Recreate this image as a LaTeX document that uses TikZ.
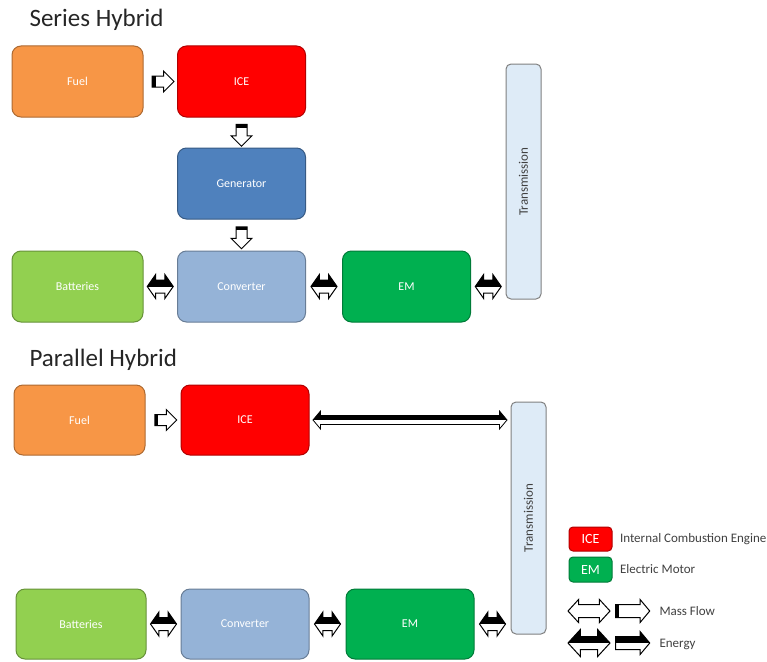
\documentclass[tikz,border=0pt]{standalone}
\usepackage{fontspec}
\setmainfont{Carlito}
\usetikzlibrary{shapes.arrows,calc,positioning}

\definecolor{fuelc}{HTML}{F79646}
\definecolor{icec}{HTML}{FF0000}
\definecolor{genc}{HTML}{4F81BD}
\definecolor{batc}{HTML}{92D050}
\definecolor{convc}{HTML}{95B3D7}
\definecolor{emc}{HTML}{00B050}
\definecolor{transc}{HTML}{DEEBF7}
\definecolor{titlec}{HTML}{262626}
\definecolor{labelc}{HTML}{404040}

\tikzset{every picture/.style = {x=1pt, y=-1pt}}
\tikzset{box/.style = {fill=#1, draw=#1!70!black, line width=1pt, rounded corners=9pt,
  minimum width=128pt, minimum height=71pt, text=white, font=\fontsize{12}{14}\selectfont}}
\tikzset{trans/.style = {fill=transc, draw=black!50, line width=1pt, rounded corners=5pt,
  minimum width=35pt}}
\tikzset{title/.style = {anchor=west, text=titlec, font=\fontsize{25}{28}\selectfont}}
\tikzset{legtext/.style = {anchor=west, text=labelc, font=\fontsize{13}{15}\selectfont}}
\tikzset{mass/.style = {single arrow, draw, fill=white, line width=1pt, inner xsep=0pt,
  inner ysep=5pt, single arrow head extend=5pt, minimum height=22pt,
  path picture={\fill[black] (path picture bounding box.south west)
    rectangle ([xshift=3.5pt]path picture bounding box.north west);}}}
\tikzset{massdown/.style = {single arrow, draw, fill=white, line width=1pt, inner xsep=5pt,
  inner ysep=0pt, single arrow head extend=5pt, minimum height=22pt,
  shape border rotate=270,
  path picture={\fill[black] (path picture bounding box.north west)
    rectangle ([yshift=-3.5pt]path picture bounding box.north east);
    \fill[black] (path picture bounding box.north west)
    rectangle ([xshift=2pt]path picture bounding box.south west);}}}
\tikzset{energy/.style = {double arrow, draw, fill=white, line width=1pt, inner xsep=0pt,
  inner ysep=6pt, double arrow head extend=5.5pt, double arrow tip angle=110,
  minimum height=26pt,
  path picture={\fill[black] (path picture bounding box.north west)
    rectangle (path picture bounding box.east);}}}
\tikzset{energy1/.style = {single arrow, draw, fill=white, line width=1pt, inner xsep=0pt,
  inner ysep=6pt, single arrow head extend=5pt, single arrow tip angle=100,
  minimum height=34pt,
  path picture={\fill[black] (path picture bounding box.north west)
    rectangle (path picture bounding box.east);}}}

\begin{document}
\begin{tikzpicture}
  \useasboundingbox (0,0) rectangle (767,661);

  % series hybrid
  \node[title] (t1) at (26,20) {Series Hybrid};
  \node[box=fuelc, minimum width=131pt] (fuel) at (77.5,81.5) {Fuel};
  \node[box=icec] (ice) at (241.5,81.5) {ICE};
  \node[box=genc] (gen) at (241.5,183.5) {Generator};
  \node[box=batc, minimum width=131pt] (bat) at (77.5,286.5) {Batteries};
  \node[box=convc] (conv) at (241.5,286.5) {Converter};
  \node[box=emc] (em) at (406.5,286.5) {EM};
  \node[trans, minimum height=235pt,
    label={[rotate=90, text=labelc, font=\fontsize{13}{15}\selectfont]center:Transmission}]
    (trans) at (523.5,181.5) {};

  \node[mass] (a1) at ($(fuel.east)!0.5!(ice.west)$) {};
  \node[massdown] (a2) at ($(ice.south)!0.5!(gen.north)$) {};
  \node[massdown] (a3) at ($(gen.south)!0.5!(conv.north)$) {};
  \node[energy] (a4) at ($(bat.east)!0.5!(conv.west)$) {};
  \node[energy] (a5) at ($(conv.east)!0.5!(em.west)$) {};
  \node[energy] (a6) at ($(em.east)!0.5!(em.east -| trans.west)$) {};

  % parallel hybrid
  \node[title] (t2) at (26,360) {Parallel Hybrid};
  \node[box=fuelc, minimum width=131pt, minimum height=70pt] (fuel2) at (79.5,420) {Fuel};
  \node[box=icec, minimum height=70pt] (ice2) at (245,420) {ICE};
  \node[box=batc, minimum width=130pt, minimum height=70pt] (bat2) at (81,624) {Batteries};
  \node[box=convc, minimum height=70pt] (conv2) at (245,624) {Converter};
  \node[box=emc, minimum height=70pt] (em2) at (410,624) {EM};
  \node[trans, minimum height=232pt,
    label={[rotate=90, text=labelc, font=\fontsize{13}{15}\selectfont]center:Transmission}]
    (trans2) at (528.5,518) {};

  \node[mass] (b1) at ($(fuel2.east)!0.5!(ice2.west)$) {};
  \node[energy, line width=0.8pt, inner ysep=4pt, double arrow head extend=4.5pt,
    double arrow tip angle=100, minimum height=194pt]
    (b2) at ($(ice2.east)!0.5!(ice2.east -| trans2.west)$) {};
  \node[energy] (b3) at ($(bat2.east)!0.5!(conv2.west)$) {};
  \node[energy] (b4) at ($(conv2.east)!0.5!(em2.west)$) {};
  \node[energy] (b5) at ($(em2.east)!0.5!(em2.east -| trans2.west)$) {};

  % legend
  \node[box=icec, minimum width=43pt, minimum height=24pt, rounded corners=4pt,
    font=\fontsize{14}{16}\selectfont] (lice) at (590.5,539) {ICE};
  \node[box=emc, minimum width=43pt, minimum height=25pt, rounded corners=4pt,
    font=\fontsize{14}{16}\selectfont] (lem) at (590.5,569.5) {EM};
  \node[legtext, right=4pt of lice] (lice-t) {Internal Combustion Engine};
  \node[legtext, right=4pt of lem] (lem-t) {Electric Motor};
  \node[energy, minimum height=42pt, double arrow head extend=5pt,
    double arrow tip angle=95, path picture={}] (lmass) at (589,611) {};
  \node[mass, minimum height=34pt, inner ysep=6pt, single arrow head extend=5pt,
    single arrow tip angle=100] (lmass1) at (630,611) {};
  \node[energy, minimum height=42pt, double arrow head extend=7pt,
    double arrow tip angle=95] (lenergy) at (589,643) {};
  \node[energy1] (lenergy1) at (630,643) {};
  \node[legtext] (lmass-t) at (656,611) {Mass Flow};
  \node[legtext] (lenergy-t) at (656,644) {Energy};
\end{tikzpicture}
\end{document}
